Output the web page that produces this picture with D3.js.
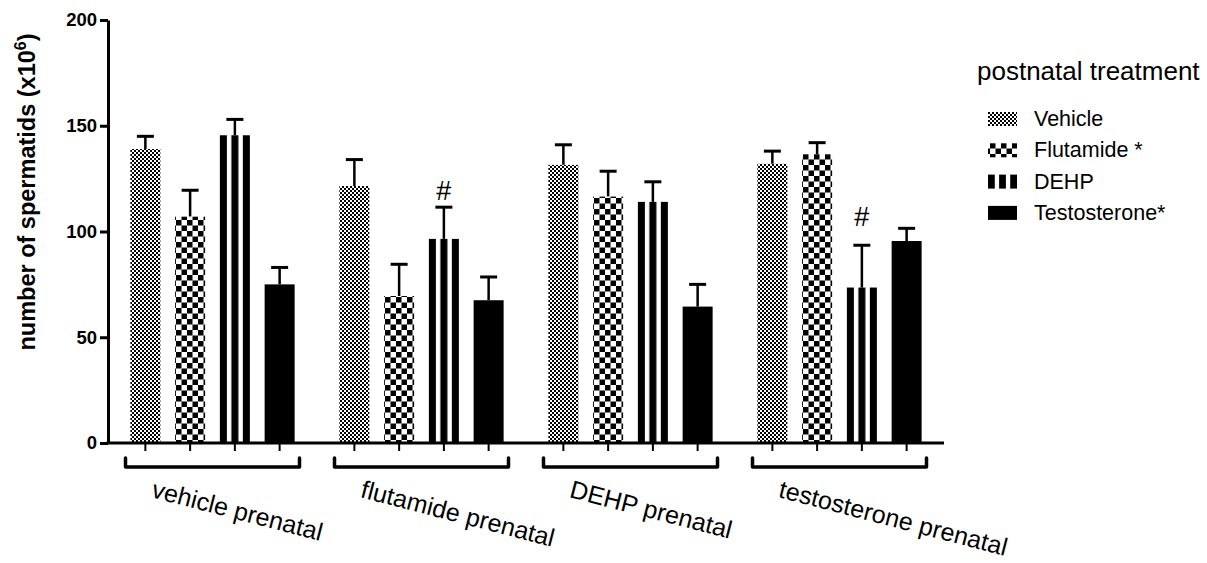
<!DOCTYPE html>
<html>
<head>
<meta charset="utf-8">
<script src="https://cdn.jsdelivr.net/npm/d3@7"></script>
<style>
  body { margin: 0; background: #fff; }
  text { font-family: "Liberation Sans", Arial, Helvetica, sans-serif; fill: #000; }
</style>
</head>
<body>
<svg id="chart" width="1207" height="563"></svg>
<script>
// Prenatal exposure groups (x axis) and postnatal treatments (bars within a group)
const prenatal = ["vehicle prenatal", "flutamide prenatal", "DEHP prenatal", "testosterone prenatal"];
const postnatal = ["Vehicle", "Flutamide *", "DEHP", "Testosterone*"];

// Mean number of spermatids (x10^6) for each postnatal treatment, per prenatal group
const meanVehicle      = [139, 121.5, 131.5, 132];
const meanFlutamide    = [107, 69.5, 116.5, 136.5];
const meanDEHP         = [145.5, 96.5, 114, 73.5];
const meanTestosterone = [75, 67.5, 64.5, 95.5];

// Upper error (SEM) for each bar
const semVehicle      = [6, 12.5, 9.5, 6];
const semFlutamide    = [12.5, 15, 12, 5.5];
const semDEHP         = [7.5, 15, 9.5, 20];
const semTestosterone = [8, 11, 10.5, 6];

// Significance marks: [prenatal group, postnatal treatment, y value of the mark]
const marks = [
  ["flutamide prenatal", "DEHP", 119],
  ["testosterone prenatal", "DEHP", 107]
];

const yTicks = [0, 50, 100, 150, 200];
const yLabel = "number of spermatids (x10";
const legendTitle = "postnatal treatment";

const means = [meanVehicle, meanFlutamide, meanDEHP, meanTestosterone];
const sems = [semVehicle, semFlutamide, semDEHP, semTestosterone];
const rows = [];
prenatal.forEach((g, gi) => {
  postnatal.forEach((t, ti) => {
    rows.push({ group: g, treat: t, mean: means[ti][gi], sem: sems[ti][gi] });
  });
});

const svg = d3.select("#chart");
const plotLeft = 108, plotRight = 944, plotTop = 20, plotBottom = 443;

const x0 = d3.scaleBand().domain(prenatal).range([plotLeft, plotRight]).paddingInner(0).paddingOuter(0);
const x1 = d3.scaleBand().domain(postnatal).range([0, x0.bandwidth()]).paddingInner(0.33).paddingOuter(0.5);
const y = d3.scaleLinear().domain([0, 200]).range([plotBottom, plotTop]);

// Fill patterns
const defs = svg.append("defs");
const pv = defs.append("pattern").attr("id", "pat-vehicle")
  .attr("patternUnits", "userSpaceOnUse").attr("width", 4).attr("height", 4);
pv.append("rect").attr("width", 4).attr("height", 4).attr("fill", "#fff");
pv.append("rect").attr("x", 0).attr("y", 0).attr("width", 2).attr("height", 2).attr("fill", "#000");
pv.append("rect").attr("x", 2).attr("y", 2).attr("width", 2).attr("height", 2).attr("fill", "#000");

const cf = 5.5;
const pf = defs.append("pattern").attr("id", "pat-flutamide")
  .attr("patternUnits", "userSpaceOnUse").attr("width", cf * 2).attr("height", cf * 2);
pf.append("rect").attr("width", cf * 2).attr("height", cf * 2).attr("fill", "#fff");
pf.append("rect").attr("x", 0).attr("y", 0).attr("width", cf).attr("height", cf).attr("fill", "#000");
pf.append("rect").attr("x", cf).attr("y", cf).attr("width", cf).attr("height", cf).attr("fill", "#000");

const pd = defs.append("pattern").attr("id", "pat-dehp")
  .attr("patternUnits", "objectBoundingBox").attr("patternContentUnits", "objectBoundingBox")
  .attr("width", 1).attr("height", 1);
pd.append("rect").attr("width", 1).attr("height", 1).attr("fill", "#fff");
[0, 0.383, 0.766].forEach(px => {
  pd.append("rect").attr("x", px).attr("y", 0).attr("width", 0.234).attr("height", 1).attr("fill", "#000");
});

const fills = d3.scaleOrdinal().domain(postnatal)
  .range(["url(#pat-vehicle)", "url(#pat-flutamide)", "url(#pat-dehp)", "#000"]);

// Error bars (upper only), drawn beneath the bars
const eb = svg.append("g").attr("stroke", "#000").attr("fill", "none");
rows.forEach(d => {
  const cx = x0(d.group) + x1(d.treat) + x1.bandwidth() / 2;
  eb.append("line").attr("x1", cx).attr("x2", cx)
    .attr("y1", y(d.mean)).attr("y2", y(d.mean + d.sem)).attr("stroke-width", 2.5);
  eb.append("line").attr("x1", cx - 8.5).attr("x2", cx + 8.5)
    .attr("y1", y(d.mean + d.sem)).attr("y2", y(d.mean + d.sem)).attr("stroke-width", 3);
});

// Bars
svg.append("g").selectAll("rect").data(rows).join("rect")
  .attr("x", d => x0(d.group) + x1(d.treat))
  .attr("y", d => y(d.mean))
  .attr("width", x1.bandwidth())
  .attr("height", d => y(0) - y(d.mean))
  .attr("fill", d => fills(d.treat));

// Significance marks
svg.append("g").selectAll("text").data(marks).join("text")
  .attr("x", d => x0(d[0]) + x1(d[1]) + x1.bandwidth() / 2)
  .attr("y", d => y(d[2]))
  .attr("text-anchor", "middle")
  .attr("dominant-baseline", "central")
  .attr("font-size", 27)
  .text("#");

// Y axis
const yAxis = svg.append("g").attr("transform", `translate(${plotLeft},0)`)
  .call(d3.axisLeft(y).tickValues(yTicks).tickSize(8).tickSizeOuter(0).tickPadding(3));
yAxis.select(".domain").attr("stroke-width", 3);
yAxis.selectAll(".tick line").attr("stroke-width", 3);
yAxis.selectAll(".tick text").attr("font-size", 18.5).attr("font-weight", "bold")
  .attr("font-family", "'Liberation Sans', Arial, sans-serif");

// X axis baseline and ticks at each bar
svg.append("line").attr("x1", plotLeft - 1.5).attr("x2", plotRight).attr("y1", plotBottom).attr("y2", plotBottom)
  .attr("stroke", "#000").attr("stroke-width", 3);
prenatal.forEach(g => {
  const ax = svg.append("g").attr("transform", `translate(${x0(g)},${plotBottom})`)
    .call(d3.axisBottom(x1).tickSize(8).tickSizeOuter(0).tickFormat(""));
  ax.select(".domain").remove();
  ax.selectAll(".tick line").attr("stroke-width", 2);
});

// Group brackets and rotated group labels
prenatal.forEach(g => {
  const c = x0(g) + x0.bandwidth() / 2;
  svg.append("path")
    .attr("d", `M${c - 87},458 V467 H${c + 87} V458`)
    .attr("fill", "none").attr("stroke", "#000").attr("stroke-width", 3.5)
    .attr("stroke-linejoin", "round").attr("stroke-linecap", "round");
  svg.append("text")
    .attr("transform", `translate(${c - 62},497) rotate(14.5)`)
    .attr("font-size", 25)
    .text(g);
});

// Y axis title
const yt = svg.append("text")
  .attr("transform", "translate(35,192) rotate(-90)")
  .attr("text-anchor", "middle")
  .attr("font-size", 23.5).attr("font-weight", "bold");
yt.append("tspan").text(yLabel);
yt.append("tspan").attr("font-size", 16).attr("dy", -9).text("6");
yt.append("tspan").attr("dy", 9).text(")");

// Legend
const lg = svg.append("g");
lg.append("text").attr("x", 977).attr("y", 80).attr("font-size", 26).text(legendTitle);
postnatal.forEach((t, i) => {
  const cy = 119 + i * 31.3;
  lg.append("rect").attr("x", 988).attr("y", cy - 7).attr("width", 29).attr("height", 14)
    .attr("fill", fills(t));
  lg.append("text").attr("x", 1034).attr("y", cy).attr("dominant-baseline", "central")
    .attr("font-size", 21.5).text(t);
});
</script>
</body>
</html>
